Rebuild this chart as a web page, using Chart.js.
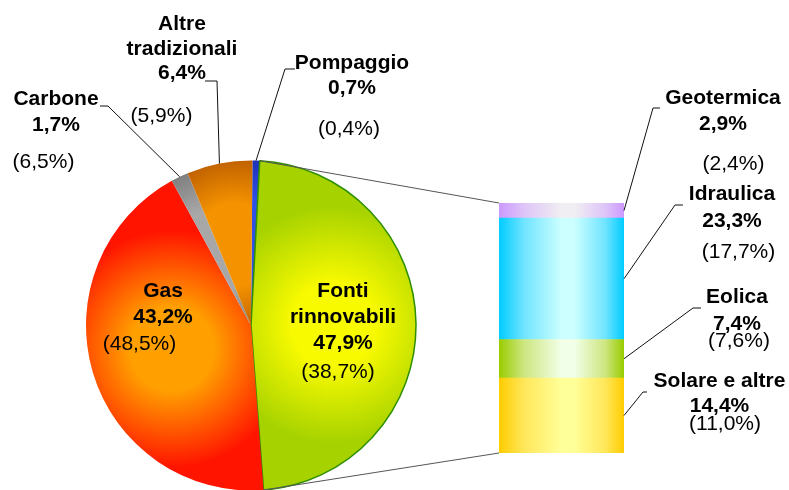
<!DOCTYPE html>
<html><head><meta charset="utf-8">
<script src="https://cdn.jsdelivr.net/npm/chart.js@4.4.1/dist/chart.umd.min.js"></script>
<style>
html,body{margin:0;padding:0;background:#fff;}
#wrap{position:relative;width:789px;height:490px;overflow:hidden;background:#fff;}
#wrap canvas{position:absolute;left:0;top:0;}
</style></head><body>
<div id="wrap"><canvas id="pie" width="789" height="490"></canvas><canvas id="bar" width="789" height="490"></canvas></div>
<script>
// ---- data ----
const pieLabels = ['Pompaggio', ['Fonti', 'rinnovabili'], 'Gas', 'Carbone', ['Altre', 'tradizionali']];
const pieValues = [0.7, 47.9, 43.2, 1.7, 6.4];
const piePrevValues = [0.4, 38.7, 48.5, 6.5, 5.9];
const barLabels = ['Solare e altre', 'Eolica', 'Idraulica', 'Geotermica'];
const barValues = [14.4, 7.4, 23.3, 2.9];
const barPrevValues = [11.0, 7.6, 17.7, 2.4];
const renewIndex = 1;

// ---- styles / layout ----
const PIE_R = 165;
const PIE_ROT = 0.5;
const pieColors = [
  ['#3050e8', '#0e1690'],
  ['#f8fa00', '#a6d200'],
  ['#ffa000', '#ff1400'],
  ['#a8a8a8', '#5c5c5c'],
  ['#f49200', '#983c00']
];
const barColors = [
  ['#ffcc00', '#ffe75a', '#ffff99'],
  ['#99cc00', '#cde680', '#f2ffe8'],
  ['#00ccff', '#70e4ff', '#ccffff'],
  ['#cc99ff', '#dec4f8', '#f0eef2']
];
const pieTextLayout = [
  {x: 352, y: 69, lh: 25, px: 349, py: 135, elbow: [[295, 69], [285, 69]]},
  {x: 343, y: 297, lh: 26, px: 338, py: 378},
  {x: 163, y: 297, lh: 26, px: 139.5, py: 350},
  {x: 56, y: 105, lh: 26, px: 43.5, py: 168, elbow: [[100, 106], [108, 106]]},
  {x: 182, y: 30, lh: 24.5, px: 161.5, py: 122, elbow: [[205, 81], [217, 81]]}
];
const barTextLayout = [
  {x: 719.5, y: 387, lh: 25, px: 725, py: 430, elbow: [[647, 392], [643, 392]]},
  {x: 737, y: 303, lh: 27, px: 739, py: 347, elbow: [[701, 308], [693, 308]]},
  {x: 732, y: 200, lh: 27, px: 738.5, py: 258, elbow: [[683, 205], [675, 205]]},
  {x: 723, y: 104, lh: 26, px: 733.5, py: 170, elbow: [[660, 108], [653, 108]]}
];
const BOLD = 'bold 21px "Liberation Sans", Arial, Helvetica, sans-serif';
const NORMAL = '21px "Liberation Sans", Arial, Helvetica, sans-serif';

const fmt = v => v.toFixed(1).replace('.', ',') + '%';
const pieTotal = pieValues.reduce((a, b) => a + b, 0);
const barTotal = barValues.reduce((a, b) => a + b, 0);

function pieGrad(ctx) {
  const i = ctx.dataIndex;
  const a = ctx.chart.chartArea;
  if (!a || i === undefined) return pieColors[i || 0][1];
  const cx = (a.left + a.right) / 2, cy = (a.top + a.bottom) / 2;
  let start = PIE_ROT * Math.PI / 180;
  for (let j = 0; j < i; j++) start += pieValues[j] / pieTotal * 2 * Math.PI;
  const mid = start + pieValues[i] / pieTotal * Math.PI;
  const px = cx + 0.5 * PIE_R * Math.sin(mid), py = cy - 0.5 * PIE_R * Math.cos(mid);
  const g = ctx.chart.ctx.createRadialGradient(px, py, 0, px, py, 0.72 * PIE_R);
  g.addColorStop(0, pieColors[i][0]);
  g.addColorStop(0.35, pieColors[i][0]);
  g.addColorStop(1, pieColors[i][1]);
  return g;
}
function barGrad(ctx, i) {
  const a = ctx.chart.chartArea;
  if (!a) return barColors[i][0];
  const g = ctx.chart.ctx.createLinearGradient(a.left, 0, a.right, 0);
  const [e, m, p] = barColors[i];
  g.addColorStop(0, e);
  g.addColorStop(0.2, m);
  g.addColorStop(0.5, p);
  g.addColorStop(0.6, p);
  g.addColorStop(0.85, m);
  g.addColorStop(1, e);
  return g;
}

const pieChart = new Chart(document.getElementById('pie'), {
  type: 'pie',
  data: {
    labels: pieLabels,
    datasets: [{
      data: pieValues,
      backgroundColor: pieGrad,
      borderColor: pieValues.map((v, i) => i === renewIndex ? '#2f8f00' : 'rgba(0,0,0,0)'),
      borderWidth: pieValues.map((v, i) => i === renewIndex ? 1.5 : 0)
    }]
  },
  options: {
    responsive: false,
    animation: false,
    rotation: PIE_ROT,
    radius: PIE_R,
    layout: {padding: {left: 86, right: 373, top: 161, bottom: -1}},
    plugins: {legend: {display: false}, tooltip: {enabled: false}}
  }
});

function drawBlock(c, lines, value, prev, L) {
  c.fillStyle = '#000';
  c.textAlign = 'center';
  c.textBaseline = 'alphabetic';
  c.font = BOLD;
  const arr = Array.isArray(lines) ? lines : [lines];
  arr.forEach((t, k) => c.fillText(t, L.x, L.y + k * L.lh));
  c.fillText(fmt(value), L.x, L.y + arr.length * L.lh);
  c.font = NORMAL;
  c.fillText('(' + fmt(prev) + ')', L.px, L.py);
}
function drawLeader(c, pts) {
  c.strokeStyle = '#111';
  c.lineWidth = 1;
  c.beginPath();
  c.moveTo(pts[0][0], pts[0][1]);
  for (let k = 1; k < pts.length; k++) c.lineTo(pts[k][0], pts[k][1]);
  c.stroke();
}

const annotations = {
  id: 'annotations',
  afterDraw(chart) {
    const c = chart.ctx;
    const arcs = pieChart.getDatasetMeta(0).data;
    const barMeta = barLabels.map((l, i) => chart.getDatasetMeta(i).data[0]);
    c.save();
    const ren = arcs[renewIndex];
    const top = barMeta[barMeta.length - 1], bottom = barMeta[0];
    const bl = top.x - top.width / 2;
    c.strokeStyle = '#555';
    c.lineWidth = 1;
    c.beginPath();
    c.moveTo(ren.x + ren.outerRadius * Math.cos(ren.startAngle), ren.y + ren.outerRadius * Math.sin(ren.startAngle));
    c.lineTo(bl, Math.min(top.y, top.base));
    c.moveTo(ren.x + ren.outerRadius * Math.cos(ren.endAngle), ren.y + ren.outerRadius * Math.sin(ren.endAngle));
    c.lineTo(bl, Math.max(bottom.y, bottom.base));
    c.stroke();
    arcs.forEach((a, i) => {
      const L = pieTextLayout[i];
      if (L.elbow) {
        const m = (a.startAngle + a.endAngle) / 2;
        drawLeader(c, [...L.elbow, [a.x + a.outerRadius * Math.cos(m), a.y + a.outerRadius * Math.sin(m)]]);
      }
      drawBlock(c, pieLabels[i], pieValues[i], piePrevValues[i], L);
    });
    barMeta.forEach((b, i) => {
      const L = barTextLayout[i];
      drawLeader(c, [...L.elbow, [b.x + b.width / 2, (b.y + b.base) / 2]]);
      drawBlock(c, barLabels[i], barValues[i], barPrevValues[i], L);
    });
    c.restore();
  }
};

new Chart(document.getElementById('bar'), {
  type: 'bar',
  data: {
    labels: ['Fonti rinnovabili'],
    datasets: barLabels.map((l, i) => ({
      label: l,
      data: [barValues[i]],
      backgroundColor: ctx => barGrad(ctx, i),
      borderWidth: 0,
      barPercentage: 1,
      categoryPercentage: 1
    }))
  },
  options: {
    responsive: false,
    animation: false,
    layout: {padding: {left: 499, right: 165, top: 203, bottom: 37}},
    scales: {
      x: {display: false, stacked: true},
      y: {display: false, stacked: true, min: 0, max: barTotal}
    },
    plugins: {legend: {display: false}, tooltip: {enabled: false}}
  },
  plugins: [annotations]
});
</script>
</body></html>
